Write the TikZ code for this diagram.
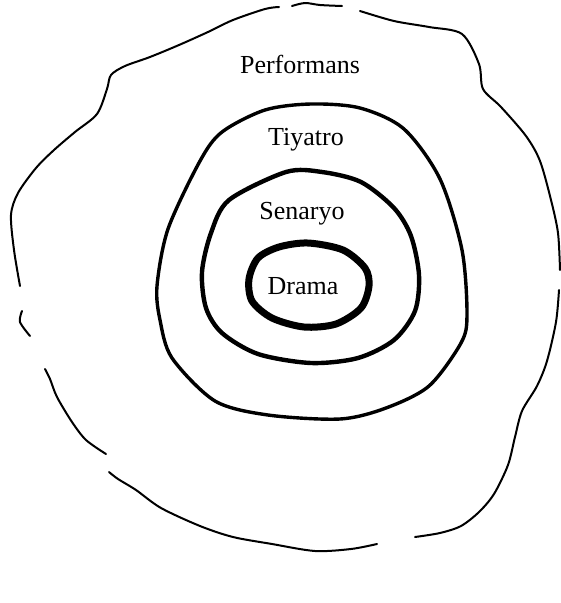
\documentclass[tikz,border=0pt]{standalone}
\usepackage{fontspec}
\setmainfont{Liberation Serif}
\usepackage{tikz}
\usetikzlibrary{positioning}

\begin{document}
\begin{tikzpicture}[x=1pt,y=-1pt,
 ring/.style={draw=black,line cap=round,line join=round},
 label/.style={font=\fontsize{26}{30}\selectfont,inner sep=1pt}]
\useasboundingbox (0,0) rectangle (561,603);
% Outer hand-drawn loop, broken into several strokes.
\draw[ring,line width=2pt] plot[smooth] coordinates
  {(292,6) (305,3) (320,5) (342,6)};
\draw[ring,line width=2pt] plot[smooth] coordinates
  {(360,11) (394,21) (429,27) (462,34) (479,64) (483,89) (501,107)
   (526,136) (540,161) (551,200) (558,233) (560,270)};
\draw[ring,line width=2pt] plot[smooth] coordinates
  {(559,290) (556,322) (547,361) (537,386) (522,411) (515,437) (508,465)
   (494,494) (479,512) (461,526) (440,533) (415,537)};
\draw[ring,line width=2pt] plot[smooth] coordinates
  {(377,544) (351,549) (315,551) (272,544) (233,537) (200,526)
   (161,508) (136,490) (118,479) (109,472)};
\draw[ring,line width=2pt] plot[smooth] coordinates
  {(106,454) (86,440) (72,422) (57,397) (50,379) (45,369)};
\draw[ring,line width=2pt] plot[smooth] coordinates
  {(22,311) (20,322) (30,336)};
\draw[ring,line width=2pt] plot[smooth] coordinates
  {(20,286) (14,250) (11,215) (18,193) (36,168) (54,150) (75,132)
   (97,114) (107,89) (111,75) (125,66) (150,57) (179,45) (208,32)
   (233,20) (265,9) (279,7)};
% Tiyatro ring
\draw[ring,line width=3.4pt] plot[smooth cycle] coordinates
  {(311,104) (360,108) (404,129) (440,179) (462,250) (467,315)
   (461,343) (429,386) (386,408) (340,419) (268,415) (215,401)
   (172,358) (160,320) (157,286) (168,229) (200,161) (222,132) (265,110)};
% Senaryo ring
\draw[ring,line width=4.4pt] plot[smooth cycle] coordinates
  {(286,172) (322,172) (361,182) (394,208) (411,236) (419,275)
   (415,311) (394,340) (358,358) (311,363) (258,354) (222,333)
   (206,308) (202,272) (211,233) (229,200)};
% Drama ring
\draw[ring,line width=7pt] plot[smooth cycle] coordinates
  {(308,243) (343,250) (365,268) (369,286) (361,308) (336,324)
   (304,327) (272,318) (252,301) (249,279) (258,258) (279,247)};

\node[label] (perf) at (300,64) {Performans};
\node[label] (tiy) at (306,140) {Tiyatro};
\node[label] (sen) at (302,214) {Senaryo};
\node[label] (dra) at (303,286) {Drama};
\end{tikzpicture}
\end{document}
